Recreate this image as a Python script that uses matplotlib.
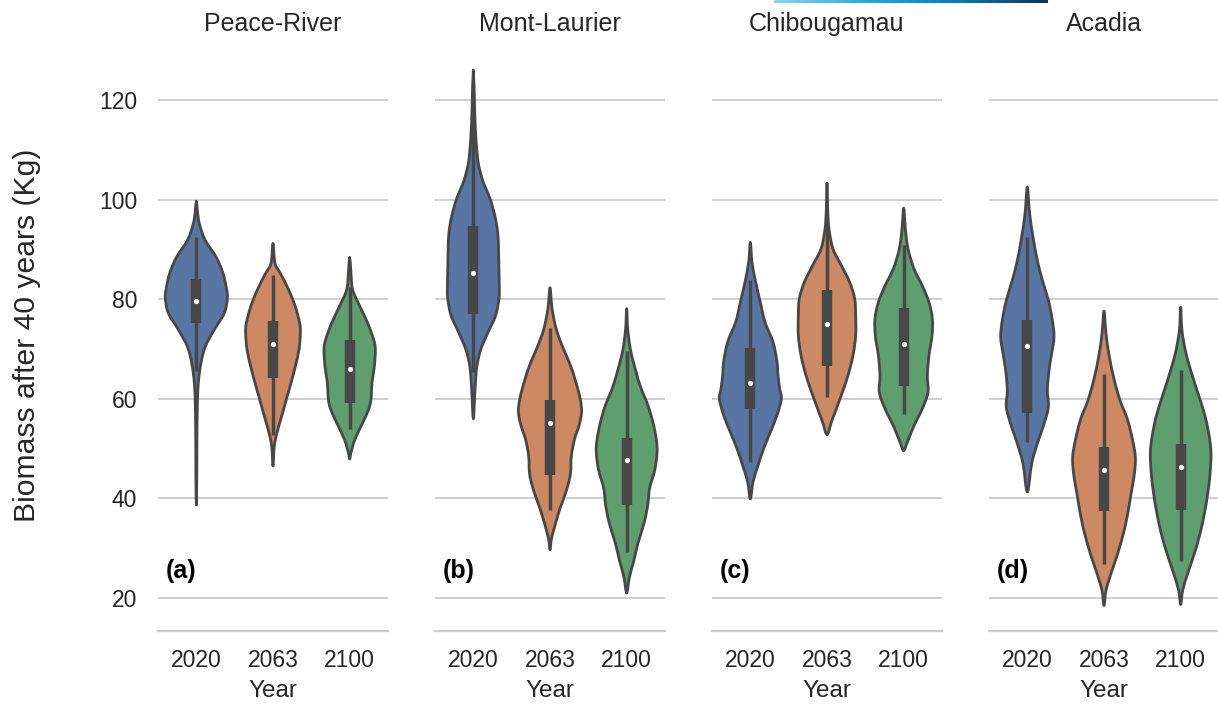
import numpy as np
import matplotlib
matplotlib.use("Agg")
import matplotlib.pyplot as plt
from matplotlib.path import Path
from matplotlib.patches import PathPatch
from matplotlib.colors import LinearSegmentedColormap

plt.rcParams['font.family'] = ['Liberation Sans', 'DejaVu Sans']

# ---------------- data ----------------
sites = ["Peace-River", "Mont-Laurier", "Chibougamau", "Acadia"]
panel_tags = ["(a)", "(b)", "(c)", "(d)"]
years = ["2020", "2063", "2100"]
yticks = [20, 40, 60, 80, 100, 120]
colors = ["#5875a4", "#cc8963", "#5f9e6e"]

# violin outlines: biomass values (Kg) and half widths (category units)
pr_2020_y = [38.7, 45, 52, 58.5, 63.2, 67.2, 70.5, 73.9, 77.2, 80.1, 81.9, 85.2, 88.5, 91.9, 95.2, 97.5, 99.7]
pr_2020_w = [0, 0.006, 0.008, 0.013, 0.026, 0.061, 0.117, 0.235, 0.365, 0.404, 0.396, 0.348, 0.257, 0.113, 0.039, 0.015, 0]
pr_2063_y = [46.5, 50.5, 53.2, 56.5, 59.9, 63.2, 66.5, 69.9, 73.2, 75.2, 78.5, 81.9, 85.2, 87.2, 91.2]
pr_2063_w = [0, 0.017, 0.052, 0.113, 0.174, 0.235, 0.291, 0.339, 0.357, 0.348, 0.291, 0.204, 0.096, 0.026, 0]
pr_2100_y = [47.9, 49.2, 51.9, 55.2, 57.9, 59.9, 63.2, 66.5, 69.9, 71.9, 75.2, 78.5, 81.9, 85.2, 88.4]
pr_2100_w = [0, 0.017, 0.070, 0.170, 0.248, 0.278, 0.291, 0.322, 0.335, 0.313, 0.235, 0.135, 0.039, 0.017, 0]

ml_2020_y = [56.0, 62.2, 66.4, 69.8, 73.3, 76.7, 80.2, 83.0, 86.4, 89.9, 93.4, 96.8, 100.3, 103.7, 107.2, 110.7, 114.1, 117.6, 126.0]
ml_2020_w = [0, 0.023, 0.045, 0.095, 0.190, 0.290, 0.335, 0.338, 0.333, 0.329, 0.318, 0.280, 0.215, 0.125, 0.066, 0.041, 0.027, 0.018, 0]
ml_2063_y = [29.7, 31.8, 34.5, 38.0, 41.5, 44.9, 48.4, 51.8, 54.6, 57.4, 60.1, 63.6, 67.1, 70.5, 74.0, 78.1, 82.3]
ml_2063_w = [0, 0.018, 0.063, 0.131, 0.212, 0.266, 0.278, 0.318, 0.378, 0.412, 0.392, 0.333, 0.257, 0.162, 0.081, 0.027, 0]
ml_2100_y = [21.0, 24.2, 27.6, 31.1, 35.2, 38.7, 42.1, 45.6, 49.1, 51.8, 55.3, 58.8, 62.2, 65.7, 69.8, 74.0, 78.1]
ml_2100_w = [0, 0.036, 0.095, 0.149, 0.230, 0.275, 0.300, 0.365, 0.396, 0.387, 0.342, 0.275, 0.185, 0.117, 0.050, 0.014, 0]

ch_2020_y = [39.9, 43.3, 46.6, 50.0, 53.3, 56.7, 60.0, 62.0, 64.7, 67.4, 71.4, 75.4, 79.4, 83.4, 87.4, 91.4]
ch_2020_w = [0, 0.035, 0.100, 0.174, 0.261, 0.348, 0.404, 0.383, 0.361, 0.348, 0.296, 0.191, 0.130, 0.070, 0.022, 0]
ch_2063_y = [52.8, 55.3, 58.0, 61.3, 64.7, 68.7, 72.7, 76.7, 80.1, 83.4, 86.8, 90.1, 94.1, 98.1, 103.3]
ch_2063_w = [0, 0.057, 0.122, 0.200, 0.274, 0.339, 0.374, 0.374, 0.361, 0.296, 0.187, 0.078, 0.026, 0.009, 0]
ch_2100_y = [49.6, 51.3, 54.6, 58.0, 61.3, 64.7, 68.7, 72.7, 76.1, 79.4, 82.7, 86.1, 90.1, 94.1, 98.3]
ch_2100_w = [0, 0.048, 0.135, 0.243, 0.317, 0.309, 0.330, 0.370, 0.374, 0.330, 0.243, 0.135, 0.057, 0.022, 0]

ac_2020_y = [41.3, 47.0, 51.0, 54.3, 58.3, 61.7, 65.7, 69.1, 72.4, 75.8, 79.8, 83.8, 87.8, 92.5, 97.2, 102.5]
ac_2020_w = [0, 0.057, 0.130, 0.204, 0.274, 0.261, 0.283, 0.317, 0.348, 0.326, 0.274, 0.196, 0.130, 0.074, 0.030, 0]
ac_2063_y = [18.5, 21.5, 24.9, 28.9, 32.9, 36.9, 40.9, 44.9, 48.3, 51.6, 55.7, 59.7, 63.7, 68.4, 73.1, 77.6]
ac_2063_w = [0, 0.026, 0.091, 0.178, 0.252, 0.309, 0.352, 0.396, 0.409, 0.374, 0.309, 0.209, 0.135, 0.070, 0.026, 0]
ac_2100_y = [18.7, 21.5, 24.9, 28.9, 32.9, 36.9, 40.9, 44.9, 49.0, 52.3, 56.3, 60.3, 64.4, 69.1, 73.7, 78.4]
ac_2100_w = [0, 0.026, 0.091, 0.178, 0.252, 0.309, 0.352, 0.383, 0.396, 0.374, 0.322, 0.243, 0.157, 0.070, 0.017, 0]

# inner boxes per site, one entry per year: q1, median, q3, whisker low, whisker high
pr_q1 = [75.3, 64.2, 59.2]; pr_med = [79.7, 71.1, 66.0]; pr_q3 = [84.0, 75.7, 71.9]
pr_lo = [65.5, 52.7, 54.0]; pr_hi = [92.4, 84.9, 82.5]
ml_q1 = [77.1, 44.6, 38.7]; ml_med = [85.2, 55.2, 47.8]; ml_q3 = [94.7, 59.8, 52.2]
ml_lo = [65.3, 37.6, 29.3]; ml_hi = [117.0, 74.3, 69.5]
ch_q1 = [58.0, 66.6, 62.5]; ch_med = [63.1, 75.1, 71.0]; ch_q3 = [70.2, 81.9, 78.2]
ch_lo = [47.4, 60.3, 57.0]; ch_hi = [83.9, 95.5, 90.8]
ac_q1 = [57.2, 37.4, 37.6]; ac_med = [70.7, 45.7, 46.4]; ac_q3 = [75.8, 50.3, 51.0]
ac_lo = [51.3, 26.9, 27.5]; ac_hi = [92.5, 64.9, 65.7]

violins = [
    [(pr_2020_y, pr_2020_w), (pr_2063_y, pr_2063_w), (pr_2100_y, pr_2100_w)],
    [(ml_2020_y, ml_2020_w), (ml_2063_y, ml_2063_w), (ml_2100_y, ml_2100_w)],
    [(ch_2020_y, ch_2020_w), (ch_2063_y, ch_2063_w), (ch_2100_y, ch_2100_w)],
    [(ac_2020_y, ac_2020_w), (ac_2063_y, ac_2063_w), (ac_2100_y, ac_2100_w)],
]
boxes = [
    (pr_q1, pr_med, pr_q3, pr_lo, pr_hi),
    (ml_q1, ml_med, ml_q3, ml_lo, ml_hi),
    (ch_q1, ch_med, ch_q3, ch_lo, ch_hi),
    (ac_q1, ac_med, ac_q3, ac_lo, ac_hi),
]

# ---------------- style ----------------
W, H = 1218, 704
text_col = "#262626"
grid_col = "#cccccc"
edge_col = "#474747"


def smooth_closed_path(xs, ys):
    pts = np.column_stack([xs, ys]).astype(float)
    n = len(pts)
    verts = [pts[0]]
    codes = [Path.MOVETO]
    for i in range(n):
        p0 = pts[i - 1]
        p1 = pts[i]
        p2 = pts[(i + 1) % n]
        p3 = pts[(i + 2) % n]
        c1 = p1 + (p2 - p0) / 6.0
        c2 = p2 - (p3 - p1) / 6.0
        verts += [c1, c2, p2]
        codes += [Path.CURVE4] * 3
    verts.append(pts[0])
    codes.append(Path.CLOSEPOLY)
    return Path(np.array(verts), codes)


def draw_violin(ax, pos, ys, ws, color):
    ys = np.asarray(ys, float)
    ws = np.asarray(ws, float)
    right_x = pos + ws
    left_x = pos - ws[1:-1][::-1]
    xs = np.concatenate([right_x, left_x])
    yy = np.concatenate([ys, ys[1:-1][::-1]])
    path = smooth_closed_path(xs, yy)
    patch = PathPatch(path, facecolor=color, edgecolor=edge_col, lw=2.0,
                      joinstyle='round', zorder=2)
    ax.add_patch(patch)


fig = plt.figure(figsize=(W / 100, H / 100), dpi=100)

ax_left = [158, 435, 712, 989]
ax_w = 230
ax_top, ax_bot = 39, 631
ylo = 120 - (631 - 100) / 4.98
yhi = 120 + (100 - 39) / 4.98

axes = []
for i, site in enumerate(sites):
    ax = fig.add_axes([ax_left[i] / W, (H - ax_bot) / H, ax_w / W, (ax_bot - ax_top) / H])
    axes.append(ax)
    ax.set_xlim(-0.5, 2.5)
    ax.set_ylim(ylo, yhi)
    ax.set_yticks(yticks)
    ax.yaxis.grid(True, color=grid_col, lw=1.3, zorder=0)
    ax.xaxis.grid(False)
    ax.set_axisbelow(True)
    for s in ["left", "right", "top"]:
        ax.spines[s].set_visible(False)
    ax.spines["bottom"].set_color(grid_col)
    ax.spines["bottom"].set_linewidth(1.6)
    ax.set_facecolor("white")

    for j, (ys, ws) in enumerate(violins[i]):
        draw_violin(ax, j, ys, ws, colors[j])
    q1, med, q3, lo, hi = boxes[i]
    for j in range(3):
        ax.plot([j, j], [lo[j], hi[j]], color=edge_col, lw=2.5,
                solid_capstyle='butt', zorder=3)
        ax.plot([j, j], [q1[j], q3[j]], color=edge_col, lw=7.5,
                solid_capstyle='butt', zorder=3)
        ax.plot([j], [med[j]], 'o', color='white', ms=3.8, mec='white',
                mew=0, zorder=4)

    ax.set_xticks([0, 1, 2])
    ax.set_xticklabels(years)
    ax.tick_params(axis='x', length=0, pad=13, labelsize=16.5, colors=text_col)
    ax.tick_params(axis='y', length=0, pad=15, labelsize=16.5, colors=text_col)
    if i > 0:
        ax.tick_params(axis='y', labelleft=False)
    ax.set_title(site, fontsize=18, color=text_col, pad=6)
    ax.set_xlabel("Year", fontsize=17.5, color=text_col, labelpad=6)
    ax.text(-0.4, 25.4, panel_tags[i], fontsize=18, fontweight='bold',
            color='black', ha='left', va='center', zorder=5)

axes[0].set_ylabel("Biomass after 40 years (Kg)", fontsize=21.7, color=text_col)
axes[0].yaxis.set_label_coords((27 - 158) / ax_w, 0.5)
axes[0].yaxis.label.set_va('center')

# thin gradient strip at the top edge
gax = fig.add_axes([774 / W, 1 - 3 / H, 274 / W, 3 / H])
cmap = LinearSegmentedColormap.from_list("strip", ["#8dd4f5", "#2aa6df", "#0a7bbf", "#0c3556"])
gax.imshow(np.linspace(0, 1, 256)[None, :], aspect='auto', cmap=cmap)
gax.set_axis_off()

fig.savefig("out.png", dpi=100, facecolor="white")
